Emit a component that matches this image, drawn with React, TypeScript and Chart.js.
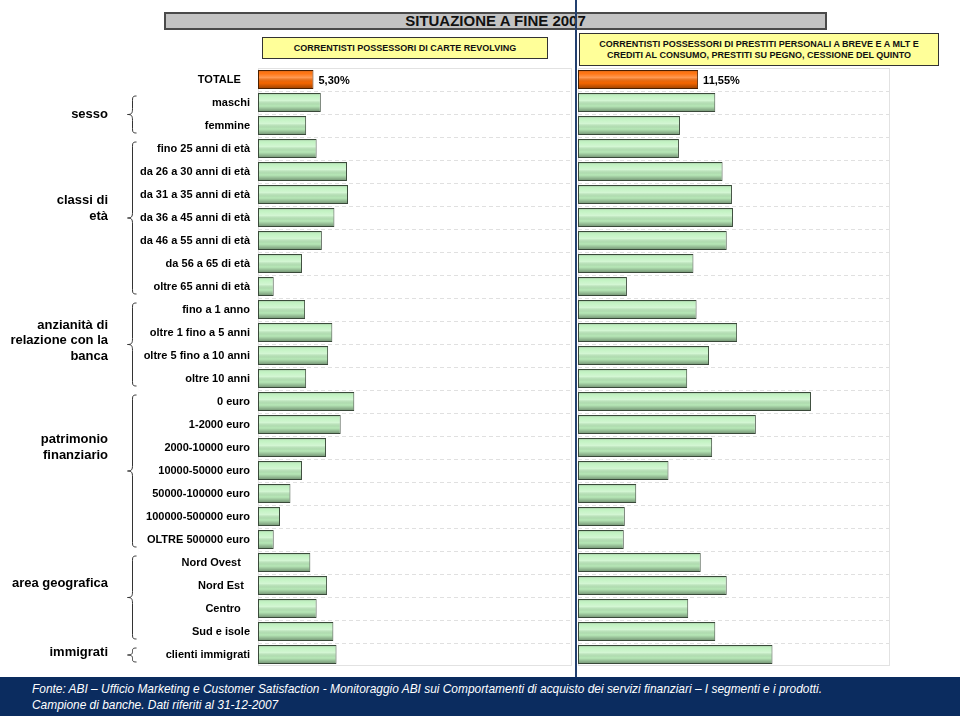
import React, { useEffect, useRef } from "react";
import { Chart, registerables } from "chart.js";

Chart.register(...registerables);

const categories = [
  "TOTALE   ",
  "maschi",
  "femmine",
  "fino 25 anni di età",
  "da 26 a 30 anni di età",
  "da 31 a 35 anni di età",
  "da 36 a 45 anni di età",
  "da 46 a 55 anni di età",
  "da 56 a 65 di età",
  "oltre 65 anni di età",
  "fino a 1 anno",
  "oltre 1 fino a 5 anni",
  "oltre 5 fino a 10 anni",
  "oltre 10 anni",
  "0 euro",
  "1-2000 euro",
  "2000-10000 euro",
  "10000-50000 euro",
  "50000-100000 euro",
  "100000-500000 euro",
  "OLTRE 500000 euro",
  "Nord Ovest   ",
  "Nord Est  ",
  "Centro   ",
  "Sud e isole",
  "clienti immigrati",
];

// CORRENTISTI POSSESSORI DI CARTE REVOLVING (%)
const revolving = [
  5.3, 6.0, 4.6, 5.6, 8.5, 8.6, 7.3, 6.1, 4.2, 1.5, 4.5, 7.1, 6.7, 4.6, 9.2,
  7.9, 6.5, 4.2, 3.1, 2.1, 1.5, 5.0, 6.6, 5.6, 7.2, 7.5,
];

// CORRENTISTI POSSESSORI DI PRESTITI PERSONALI ... (%)
const prestiti = [
  11.55, 13.2, 9.8, 9.7, 13.9, 14.8, 14.9, 14.3, 11.1, 4.7, 11.4, 15.3, 12.6,
  10.5, 22.4, 17.1, 12.9, 8.7, 5.6, 4.5, 4.4, 11.8, 14.3, 10.6, 13.2, 18.7,
];

const groupLines = [
  ["sesso"],
  ["classi di", "età"],
  ["anzianità di", "relazione con la", "banca"],
  ["patrimonio", "finanziario"],
  ["area geografica"],
  ["immigrati"],
];
const groupStart = [1, 3, 10, 14, 21, 25];
const groupEnd = [2, 9, 13, 20, 24, 25];
const groupLabelAt = [1.5, 5.6, 11.35, 16.0, 21.9, 24.9];

const mainTitle = "SITUAZIONE A FINE 2007";
const leftTitle = ["CORRENTISTI POSSESSORI DI CARTE REVOLVING"];
const rightTitle = [
  "CORRENTISTI POSSESSORI DI PRESTITI PERSONALI A BREVE E A MLT E",
  "CREDITI AL CONSUMO, PRESTITI SU PEGNO, CESSIONE DEL QUINTO",
];
const sourceLines = [
  "Fonte: ABI – Ufficio Marketing e Customer Satisfaction - Monitoraggio ABI sui Comportamenti di acquisto dei servizi finanziari – I segmenti e i prodotti.",
  "Campione di banche. Dati riferiti al 31-12-2007",
];

const FONT = '"Liberation Sans", Arial, sans-serif';
const GREEN = "#bff2bf";
const ORANGE = "#ff6a00";
const X_MAX = 30;

const fmtPct = (v: number) => v.toFixed(2).replace(".", ",") + "%";

const shadePlugin = {
  id: "shade",
  afterDatasetsDraw(chart: any) {
    const ctx = chart.ctx;
    const meta = chart.getDatasetMeta(0);
    ctx.save();
    meta.data.forEach((el: any) => {
      const p = el.getProps(["x", "y", "base", "height"], true);
      const left = Math.min(p.x, p.base);
      const right = Math.max(p.x, p.base);
      const top = p.y - p.height / 2;
      const bottom = p.y + p.height / 2;
      const g = ctx.createLinearGradient(0, top, 0, bottom);
      g.addColorStop(0, "rgba(0,0,0,0.32)");
      g.addColorStop(0.16, "rgba(255,255,255,0.05)");
      g.addColorStop(0.4, "rgba(255,255,255,0.32)");
      g.addColorStop(0.68, "rgba(0,0,0,0.04)");
      g.addColorStop(1, "rgba(0,0,0,0.42)");
      ctx.fillStyle = g;
      ctx.fillRect(left + 1, top + 1, right - left - 2, bottom - top - 2);
    });
    ctx.restore();
  },
};

const framePlugin = {
  id: "frame",
  beforeDatasetsDraw(chart: any) {
    const { ctx, chartArea } = chart;
    ctx.save();
    ctx.strokeStyle = "#e2e2e2";
    ctx.lineWidth = 1;
    ctx.strokeRect(
      chartArea.left + 0.5,
      chartArea.top + 0.5,
      chartArea.right - chartArea.left - 1,
      chartArea.bottom - chartArea.top - 1
    );
    ctx.restore();
  },
};

const valueLabelPlugin = {
  id: "valueLabel",
  afterDatasetsDraw(chart: any) {
    const ctx = chart.ctx;
    const meta = chart.getDatasetMeta(0);
    const el: any = meta.data[0];
    const v = chart.data.datasets[0].data[0];
    const p = el.getProps(["x", "y"], true);
    ctx.save();
    ctx.font = "bold 11px " + FONT;
    ctx.fillStyle = "#000";
    ctx.textAlign = "left";
    ctx.textBaseline = "middle";
    ctx.fillText(fmtPct(v), p.x + 5, p.y + 1);
    ctx.restore();
  },
};

const groupPlugin = {
  id: "groups",
  afterDraw(chart: any) {
    const ctx = chart.ctx;
    const ys = chart.scales.y;
    const half = Math.abs(ys.getPixelForValue(1) - ys.getPixelForValue(0)) / 2;
    ctx.save();
    ctx.strokeStyle = "#333";
    ctx.lineWidth = 1;
    ctx.fillStyle = "#000";
    ctx.font = "bold 13px " + FONT;
    ctx.textAlign = "right";
    ctx.textBaseline = "middle";
    groupLines.forEach((lines, g) => {
      const y0 = ys.getPixelForValue(groupStart[g]) - half + 5;
      const y1 = ys.getPixelForValue(groupEnd[g]) + half - 4;
      const ym = (y0 + y1) / 2;
      const sx = 132.5;
      const tx = 127.5;
      const ex = 136.5;
      const r = Math.min(6, (y1 - y0) / 4);
      ctx.beginPath();
      ctx.moveTo(ex, y0);
      ctx.bezierCurveTo(sx, y0, sx, y0 + 1, sx, y0 + r);
      ctx.lineTo(sx, ym - r);
      ctx.bezierCurveTo(sx, ym - 1, sx - 1, ym, tx, ym);
      ctx.bezierCurveTo(sx - 1, ym, sx, ym + 1, sx, ym + r);
      ctx.lineTo(sx, y1 - r);
      ctx.bezierCurveTo(sx, y1 - 1, sx, y1, ex, y1);
      ctx.stroke();

      const ly = ys.getPixelForValue(groupLabelAt[g]);
      const n = lines.length;
      lines.forEach((t, k) => {
        ctx.fillText(t, 108, ly + (k - (n - 1) / 2) * 15.5);
      });
    });
    ctx.restore();
  },
};

function makeConfig(values: number[], withLabels: boolean): any {
  return {
    type: "bar",
    data: {
      labels: categories,
      datasets: [
        {
          data: values,
          backgroundColor: (c: any) => (c.dataIndex === 0 ? ORANGE : GREEN),
          borderColor: (c: any) => (c.dataIndex === 0 ? "#4a2000" : "#3a4a3a"),
          borderWidth: 1,
          borderSkipped: false,
          barPercentage: 0.83,
          categoryPercentage: 1.0,
        },
      ],
    },
    options: {
      indexAxis: "y",
      animation: false,
      responsive: false,
      events: [],
      layout: { padding: 0 },
      plugins: {
        legend: { display: false },
        tooltip: { enabled: false },
      },
      scales: {
        x: { display: false, min: 0, max: X_MAX },
        y: {
          display: true,
          grid: {
            color: "#e0e0e0",
            lineWidth: 1,
            drawTicks: false,
            offset: true,
            borderDash: [4, 3],
          },
          border: { display: false, dash: [4, 3] },
          ticks: {
            display: withLabels,
            color: "#000",
            autoSkip: false,
            padding: 8,
            font: { size: 11, weight: "bold", family: FONT },
          },
          afterFit: (s: any) => {
            s.width = withLabels ? 258 : 0;
            s.paddingTop = 0;
            s.paddingBottom = 0;
          },
        },
      },
    },
    plugins: withLabels
      ? [framePlugin, shadePlugin, valueLabelPlugin, groupPlugin]
      : [framePlugin, shadePlugin, valueLabelPlugin],
  };
}

export default function App() {
  const leftRef = useRef<HTMLCanvasElement | null>(null);
  const rightRef = useRef<HTMLCanvasElement | null>(null);
  const footRef = useRef<HTMLDivElement | null>(null);

  useEffect(() => {
    const c1 = new Chart(leftRef.current as HTMLCanvasElement, makeConfig(revolving, true));
    const c2 = new Chart(rightRef.current as HTMLCanvasElement, makeConfig(prestiti, false));
    // squeeze source text to a narrow face width
    const f = footRef.current;
    if (f) {
      const first = f.firstElementChild as HTMLElement | null;
      if (first) {
        const w = first.getBoundingClientRect().width;
        if (w > 0) {
          f.style.transform = `scaleX(${790 / w})`;
        }
      }
    }
    return () => {
      c1.destroy();
      c2.destroy();
    };
  }, []);

  const abs = (l: number, t: number, w: number, h: number): React.CSSProperties => ({
    position: "absolute",
    left: l,
    top: t,
    width: w,
    height: h,
    boxSizing: "border-box",
  });

  return (
    <div
      style={{
        position: "absolute",
        left: 0,
        top: 0,
        width: 960,
        height: 716,
        background: "#fff",
        overflow: "hidden",
        fontFamily: FONT,
      }}
    >
      {/* main header */}
      <div
        style={{
          ...abs(164, 12, 663, 18),
          background: "#c3c3c3",
          border: "2px solid #4a4a4a",
          textAlign: "center",
          fontWeight: "bold",
          fontSize: 15,
          lineHeight: "14px",
          color: "#111",
        }}
      >
        {mainTitle}
      </div>

      {/* left panel title */}
      <div
        style={{
          ...abs(262, 37, 286, 22),
          background: "#ffff99",
          border: "1.5px solid #333",
          display: "flex",
          alignItems: "center",
          justifyContent: "center",
          fontWeight: "bold",
          fontSize: 9,
          color: "#111",
        }}
      >
        {leftTitle[0]}
      </div>

      {/* right panel title */}
      <div
        style={{
          ...abs(579, 33, 360, 33),
          background: "#ffff99",
          border: "1.5px solid #333",
          display: "flex",
          flexDirection: "column",
          alignItems: "center",
          justifyContent: "center",
          fontWeight: "bold",
          fontSize: 9,
          lineHeight: "11px",
          color: "#111",
          textAlign: "center",
        }}
      >
        {rightTitle.map((t, i) => (
          <div key={i}>{t}</div>
        ))}
      </div>

      {/* charts */}
      <canvas
        ref={leftRef}
        width={572}
        height={598}
        style={{ position: "absolute", left: 0, top: 68, display: "block" }}
      />
      <canvas
        ref={rightRef}
        width={312}
        height={598}
        style={{ position: "absolute", left: 578, top: 68, display: "block" }}
      />

      {/* vertical divider */}
      <div style={{ ...abs(575, 0, 2, 677), background: "#23406f" }} />

      {/* footer */}
      <div style={{ ...abs(0, 677, 960, 39), background: "#0b2c5f" }}>
        <div
          ref={footRef}
          style={{
            position: "absolute",
            left: 32,
            top: 4,
            transformOrigin: "0 0",
            color: "#fff",
            fontFamily: FONT,
            fontStyle: "italic",
            fontSize: 13.5,
            lineHeight: "16px",
          }}
        >
          {sourceLines.map((t, i) => (
            <div key={i} style={{ whiteSpace: "nowrap", display: "block", width: "max-content" }}>
              {t}
            </div>
          ))}
        </div>
      </div>
    </div>
  );
}
